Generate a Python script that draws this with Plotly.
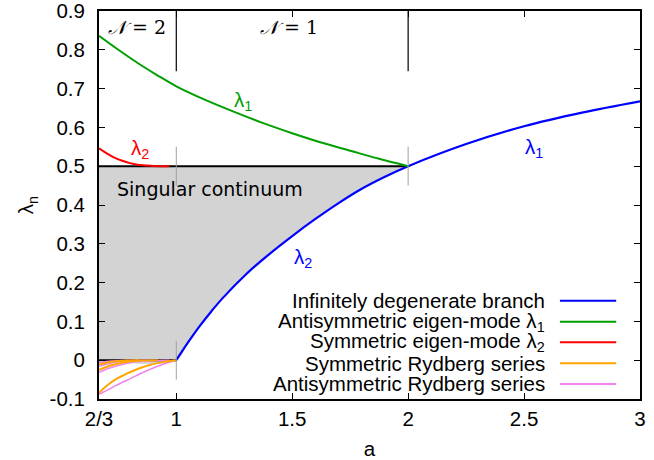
import plotly.graph_objects as go

# ---------------- data ----------------
# Infinitely degenerate branch (blue)
a_blue = [1.0, 1.05, 1.1, 1.15, 1.2, 1.3, 1.4, 1.5, 1.6, 1.7, 1.8, 1.9, 2.0, 2.25, 2.5, 2.75, 3.0]
v_blue = [0.0, 0.045, 0.087, 0.125, 0.160, 0.221, 0.273, 0.320, 0.364, 0.405, 0.442, 0.473, 0.500, 0.557, 0.603, 0.638, 0.667]

# Antisymmetric eigen-mode lambda_1 (green)
a_green = [0.6667, 0.75, 0.8333, 0.9167, 1.0, 1.125, 1.25, 1.375, 1.5, 1.625, 1.75, 1.875, 2.0]
v_green = [0.836, 0.800, 0.766, 0.735, 0.706, 0.671, 0.640, 0.611, 0.585, 0.561, 0.540, 0.519, 0.500]

# Symmetric eigen-mode lambda_2 (red)
a_red = [0.6667, 0.70, 0.733, 0.767, 0.80, 0.833, 0.867, 0.90, 0.933, 0.97]
v_red = [0.546, 0.533, 0.522, 0.514, 0.508, 0.504, 0.502, 0.5005, 0.500, 0.500]

# Symmetric Rydberg series (orange)
sym_ryd_a = [
    [0.6667, 0.70, 0.74, 0.80, 0.87, 0.94, 1.0],
    [0.6667, 0.72, 0.78, 0.85, 0.92],
    [0.6667, 0.72, 0.78, 0.84],
]
sym_ryd_v = [
    [-0.084, -0.066, -0.049, -0.031, -0.015, -0.005, 0.0],
    [-0.025, -0.013, -0.005, -0.001, 0.0],
    [-0.011, -0.004, -0.001, 0.0],
]

# Antisymmetric Rydberg series (violet)
anti_ryd_a = [
    [0.6667, 0.70, 0.74, 0.80, 0.87, 0.94, 1.0],
    [0.6667, 0.72, 0.78, 0.85, 0.92, 0.97],
    [0.6667, 0.72, 0.78, 0.85, 0.90],
    [0.6667, 0.72, 0.78, 0.84],
]
anti_ryd_v = [
    [-0.088, -0.078, -0.065, -0.048, -0.028, -0.011, 0.0],
    [-0.031, -0.019, -0.009, -0.003, -0.0005, 0.0],
    [-0.016, -0.007, -0.002, -0.0003, 0.0],
    [-0.006, -0.002, -0.0005, 0.0],
]

# region boundaries / continuum
a_min, a_max = 2 / 3, 3.0
region_bounds = [1.0, 2.0]
continuum_top = 0.5
continuum_bottom = 0.0

x_tickvals = [2 / 3, 1, 1.5, 2, 2.5, 3]
x_ticktext = ["2/3", "1", "1.5", "2", "2.5", "3"]
y_tickvals = [-0.1, 0, 0.1, 0.2, 0.3, 0.4, 0.5, 0.6, 0.7, 0.8, 0.9]
y_ticktext = ["-0.1", "0", "0.1", "0.2", "0.3", "0.4", "0.5", "0.6", "0.7", "0.8", "0.9"]

legend_names = [
    "Infinitely degenerate branch",
    "Antisymmetric eigen-mode λ<sub>1</sub>",
    "Symmetric eigen-mode λ<sub>2</sub>",
    "Symmetric Rydberg series",
    "Antisymmetric Rydberg series",
]

# ---------------- styles ----------------
C_BLUE = "#0000ff"
C_GREEN = "#00a000"
C_RED = "#ff0000"
C_ORANGE = "#ffa500"
C_VIOLET = "#ee82ee"
C_FILL = "#d3d3d3"
C_TICKGRAY = "#a0a0a0"
FONT = "Liberation Sans"
FS = 20.5

fig = go.Figure()

# singular continuum (shaded)
i2 = a_blue.index(region_bounds[1])
poly_x = [a_min, region_bounds[1]] + a_blue[:i2 + 1][::-1] + [a_min]
poly_y = [continuum_top, continuum_top] + v_blue[:i2 + 1][::-1] + [continuum_bottom]
fig.add_trace(go.Scatter(x=poly_x, y=poly_y, mode="lines", fill="toself",
                         fillcolor=C_FILL, line=dict(width=0, shape="spline"), hoverinfo="skip",
                         showlegend=False))

# black edges of continuum
fig.add_trace(go.Scatter(x=[a_min, region_bounds[1]], y=[continuum_top, continuum_top],
                         mode="lines", line=dict(color="black", width=2), showlegend=False))
fig.add_trace(go.Scatter(x=[a_min, region_bounds[0]], y=[continuum_bottom, continuum_bottom],
                         mode="lines", line=dict(color="black", width=2), showlegend=False))

# gray marker lines at the branch points
for (xa, ya) in [(region_bounds[0], continuum_top), (region_bounds[1], continuum_top),
                 (region_bounds[0], continuum_bottom)]:
    fig.add_shape(type="line", x0=xa, x1=xa, y0=ya - 0.05, y1=ya + 0.05,
                  xref="x", yref="y", line=dict(color=C_TICKGRAY, width=1))

# region separators (black)
for xb in region_bounds:
    fig.add_shape(type="line", x0=xb, x1=xb, y0=0.745, y1=0.9,
                  xref="x", yref="y", line=dict(color="black", width=1.2))

# Rydberg series
for xs, ys in zip(anti_ryd_a, anti_ryd_v):
    fig.add_trace(go.Scatter(x=xs, y=ys, mode="lines", line=dict(color=C_VIOLET, width=1.5, shape="spline"),
                             name=legend_names[4], showlegend=False))
for xs, ys in zip(sym_ryd_a, sym_ryd_v):
    fig.add_trace(go.Scatter(x=xs, y=ys, mode="lines", line=dict(color=C_ORANGE, width=2, shape="spline"),
                             name=legend_names[3], showlegend=False))

fig.add_trace(go.Scatter(x=a_blue, y=v_blue, mode="lines", line=dict(color=C_BLUE, width=2.2, shape="spline"),
                         name=legend_names[0], showlegend=False))
fig.add_trace(go.Scatter(x=a_green, y=v_green, mode="lines", line=dict(color=C_GREEN, width=2, shape="spline"),
                         name=legend_names[1], showlegend=False))
fig.add_trace(go.Scatter(x=a_red, y=v_red, mode="lines", line=dict(color=C_RED, width=2, shape="spline"),
                         name=legend_names[2], showlegend=False))

# ---------------- annotations ----------------
ann = []
def label(x, y, text, color, size=FS, family=FONT, xanchor="center"):
    ann.append(dict(x=x, y=y, xref="x", yref="y", text=text, showarrow=False,
                    font=dict(color=color, size=size, family=family), xanchor=xanchor, yanchor="middle"))

label(1.287, 0.668, "λ<sub>1</sub>", C_GREEN)
label(0.843, 0.545, "λ<sub>2</sub>", C_RED)
label(2.542, 0.547, "λ<sub>1</sub>", C_BLUE)
label(1.546, 0.264, "λ<sub>2</sub>", C_BLUE)
label(0.736, 0.440, "Singular continuum", "black", size=19, family="DejaVu Sans", xanchor="left")
label(0.830, 0.858, "<i>𝒩</i> = 2", "black", size=19, family="DejaVu Serif")
label(1.484, 0.858, "<i>𝒩</i> = 1", "black", size=19, family="DejaVu Serif")

# manual legend (text right-aligned, sample line on the right)
legend_colors = [C_BLUE, C_GREEN, C_RED, C_ORANGE, C_VIOLET]
legend_rows_y = [0.2534, 0.1992, 0.1461, 0.0920, 0.0387]
for name, col, yy in zip(legend_names, legend_colors, legend_rows_y):
    ann.append(dict(x=0.828, y=yy, xref="paper", yref="paper", text=name, showarrow=False,
                    xanchor="right", yanchor="middle", font=dict(size=FS, family=FONT, color="black")))
    fig.add_shape(type="line", x0=0.852, x1=0.956, y0=yy, y1=yy, xref="paper", yref="paper",
                  line=dict(color=col, width=2))

fig.update_layout(
    width=654, height=460,
    margin=dict(l=99, r=14, t=11, b=61, autoexpand=False),
    paper_bgcolor="white", plot_bgcolor="white",
    font=dict(family=FONT, size=FS, color="black"),
    annotations=ann,
    showlegend=False,
)
fig.update_xaxes(range=[a_min, a_max], tickvals=x_tickvals, ticktext=x_ticktext, automargin=False,
                 showgrid=False, zeroline=False, showline=True, linecolor="black", linewidth=2,
                 mirror="allticks", ticks="inside", ticklen=6, tickcolor="black", tickwidth=1,
                 ticklabelstandoff=0, ticklabeloverflow="allow", tickfont=dict(size=FS),
                 title=dict(text="a", standoff=14, font=dict(size=FS)))
fig.update_yaxes(range=[-0.1, 0.9], tickvals=y_tickvals, ticktext=y_ticktext, automargin=False,
                 showgrid=False, zeroline=False, showline=True, linecolor="black", linewidth=2,
                 mirror="allticks", ticks="inside", ticklen=6, tickcolor="black", tickwidth=1,
                 ticklabelstandoff=8, ticklabeloverflow="allow", tickfont=dict(size=FS),
                 title=dict(text="λ<sub>n</sub>", standoff=10, font=dict(size=FS)))

# remove the default page margin so the 654x460 figure fills the window exactly
fig.write_html("out.html", config={"displayModeBar": False},
               post_script="document.body.style.margin='0';")
